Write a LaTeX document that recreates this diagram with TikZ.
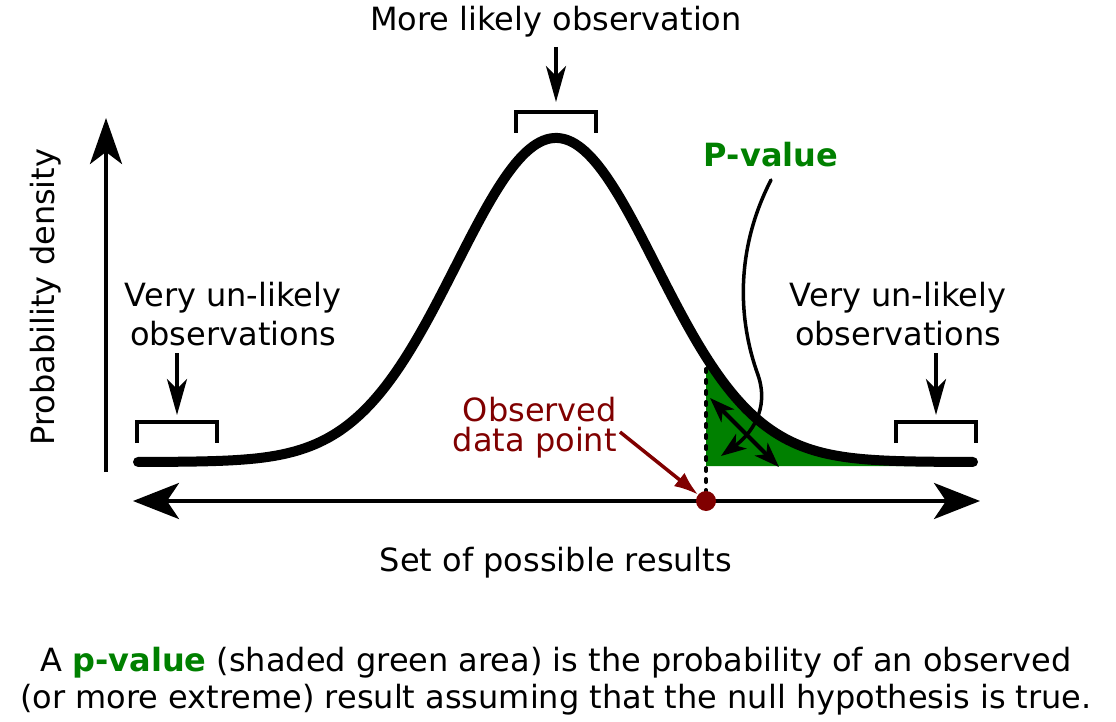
\documentclass[tikz,border=0pt]{standalone}
\usepackage{fontspec}
\setmainfont{DejaVu Sans}
\usetikzlibrary{arrows.meta}
\definecolor{pgreen}{RGB}{0,128,0}
\definecolor{dred}{RGB}{128,0,0}
\begin{document}
\begin{tikzpicture}[x=1pt,y=-1pt,
  lbl/.style={inner sep=0pt,font=\fontsize{32}{39}\selectfont,align=center},
  bracket/.style={line width=4pt},
  pointer/.style={line width=4pt,-{Stealth[length=36pt,width=20pt,inset=10pt]}},
  axis/.style={line width=4pt},
  bigtip/.tip={Stealth[length=46pt,width=36pt,inset=12pt]},
  midtip/.tip={Stealth[length=25pt,width=18pt,inset=7pt]}
]
\useasboundingbox (0,0) rectangle (1116,722);
% green area
\fill[pgreen] (706,466) -- plot[domain=706:973,samples=120] (\x,{462-324*exp(-0.5*((\x-556)/100)^2)}) -- (973,466) -- cycle;
% dotted line
\coordinate (dtop) at (706,358);
\coordinate (dbot) at (706,496);
\draw[line width=4pt,line cap=round,dash pattern=on 3pt off 8pt] (dtop) -- (dbot);
% curve
\draw[line width=10pt,line cap=round] plot[domain=138:973,samples=240] (\x,{462-324*exp(-0.5*((\x-556)/100)^2)});
% axes
\coordinate (xl) at (133,501);
\coordinate (xr) at (980,501);
\draw[axis,{bigtip}-{bigtip}] (xl) -- (xr);
\coordinate (yb) at (106,472);
\coordinate (yt) at (106,118);
\draw[axis,-{Stealth[length=46pt,width=32pt,inset=12pt]}] (yb) -- (yt);
% observed point
\node[circle,fill=dred,minimum size=20pt,inner sep=0pt] (obs) at (706,501) {};
\node[lbl,text=dred,align=right,anchor=east,font=\fontsize{32}{30}\selectfont] (obstxt) at (617,428) {Observed\\data point};
\coordinate (obsstart) at (620,432);
\draw[dred,line width=3.5pt,-{Latex[length=24pt,width=17pt]}] (obsstart) -- (obs);
% top
\node[lbl] (more) at (556,22) {More likely observation};
\coordinate (mtop) at (556,47);
\coordinate (mbot) at (556,102);
\draw[pointer] (mtop) -- (mbot);
\draw[bracket] (516,133) -- (516,112) -- (596,112) -- (596,133);
% left
\node[lbl] (vl) at (233,314) {Very un-likely\\observations};
\coordinate (lt) at (177,353);
\coordinate (lb) at (177,415);
\draw[pointer] (lt) -- (lb);
\draw[bracket] (137,443) -- (137,422) -- (217,422) -- (217,443);
% right
\node[lbl] (vr) at (898,314) {Very un-likely\\observations};
\coordinate (rt) at (936,353);
\coordinate (rb) at (936,415);
\draw[pointer] (rt) -- (rb);
\draw[bracket] (896,443) -- (896,422) -- (976,422) -- (976,443);
% p-value
\node[lbl,text=pgreen,font=\fontsize{32}{38}\selectfont\bfseries] (pv) at (771,155) {P-value};
\coordinate (ps) at (771,180);
\coordinate (pe) at (721,456);
\draw[line width=3.5pt,line cap=round,-{midtip}] (ps) .. controls (735,250) and (738,320) .. (758,375) .. controls (770,410) and (750,435) .. (pe);
\coordinate (da) at (710,398);
\coordinate (db) at (779,467);
\draw[line width=4pt,{midtip}-{midtip}] (da) -- (db);
% labels
\node[lbl,rotate=90] (ylab) at (46,297) {Probability density};
\node[lbl] (xlab) at (556,563) {Set of possible results};
\node[lbl,font=\fontsize{32}{37.5}\selectfont] (cap) at (556,681) {A \textcolor{pgreen}{\bfseries p-value} (shaded green area) is the probability of an observed\\(or more extreme) result assuming that the null hypothesis is true.};
\end{tikzpicture}
\end{document}
